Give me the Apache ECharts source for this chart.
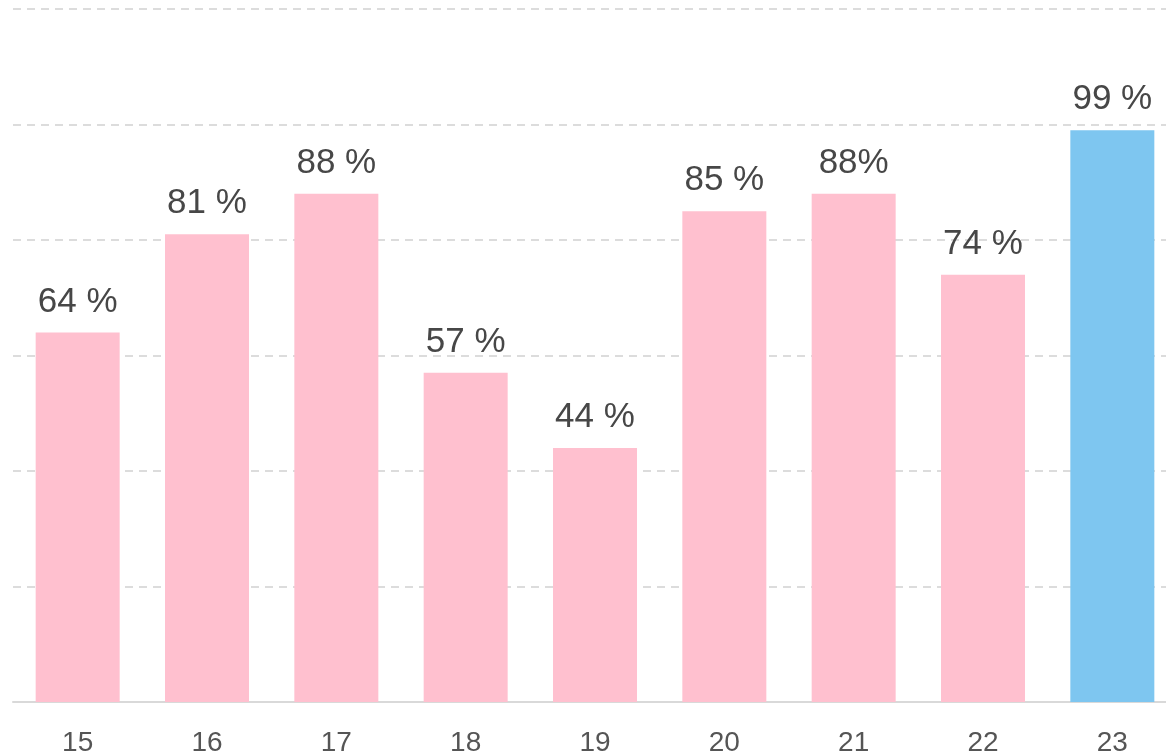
<!DOCTYPE html>
<html><head><meta charset="utf-8">
<script src="https://cdn.jsdelivr.net/npm/echarts@6/dist/echarts.min.js"></script>
<style>html,body{margin:0;padding:0;background:#fff}#c{width:1166px;height:756px}</style>
</head><body><div id="c"></div>
<script>
const categories = ['15','16','17','18','19','20','21','22','23'];
const values = [64, 81, 88, 57, 44, 85, 88, 74, 99];
const labels = ['64 %','81 %','88 %','57 %','44 %','85 %','88%','74 %','99 %'];
const highlightIndex = 8;

const chart = echarts.init(document.getElementById('c'), null, {renderer:'canvas'});
chart.setOption({
  animation:false,
  grid:{left:13, top:9, right:-11, bottom:54, containLabel:false, outerBoundsMode:'none'},
  xAxis:{type:'category', data:categories,
    axisLine:{lineStyle:{color:'#d9d9d9', width:2}},
    axisTick:{show:false},
    axisLabel:{color:'#555', fontSize:28, margin:27, fontFamily:'Liberation Sans, Arial, sans-serif'}},
  yAxis:{type:'value', min:0, max:120, interval:20,
    axisLabel:{show:false}, axisLine:{show:false}, axisTick:{show:false},
    splitLine:{lineStyle:{color:'#dcdcdc', type:[8,6], width:2}}},
  series:[{type:'bar', barWidth:84,
    data: values.map((v,i)=>({value:v, itemStyle:{color: i===highlightIndex ? '#7EC6F0' : '#FFC0CF'}})),
    label:{show:true, position:'top', distance:13, color:'#474747', fontSize:35,
      fontFamily:'Liberation Sans, Arial, sans-serif',
      formatter:p=>labels[p.dataIndex]}
  }]
});
</script></body></html>
